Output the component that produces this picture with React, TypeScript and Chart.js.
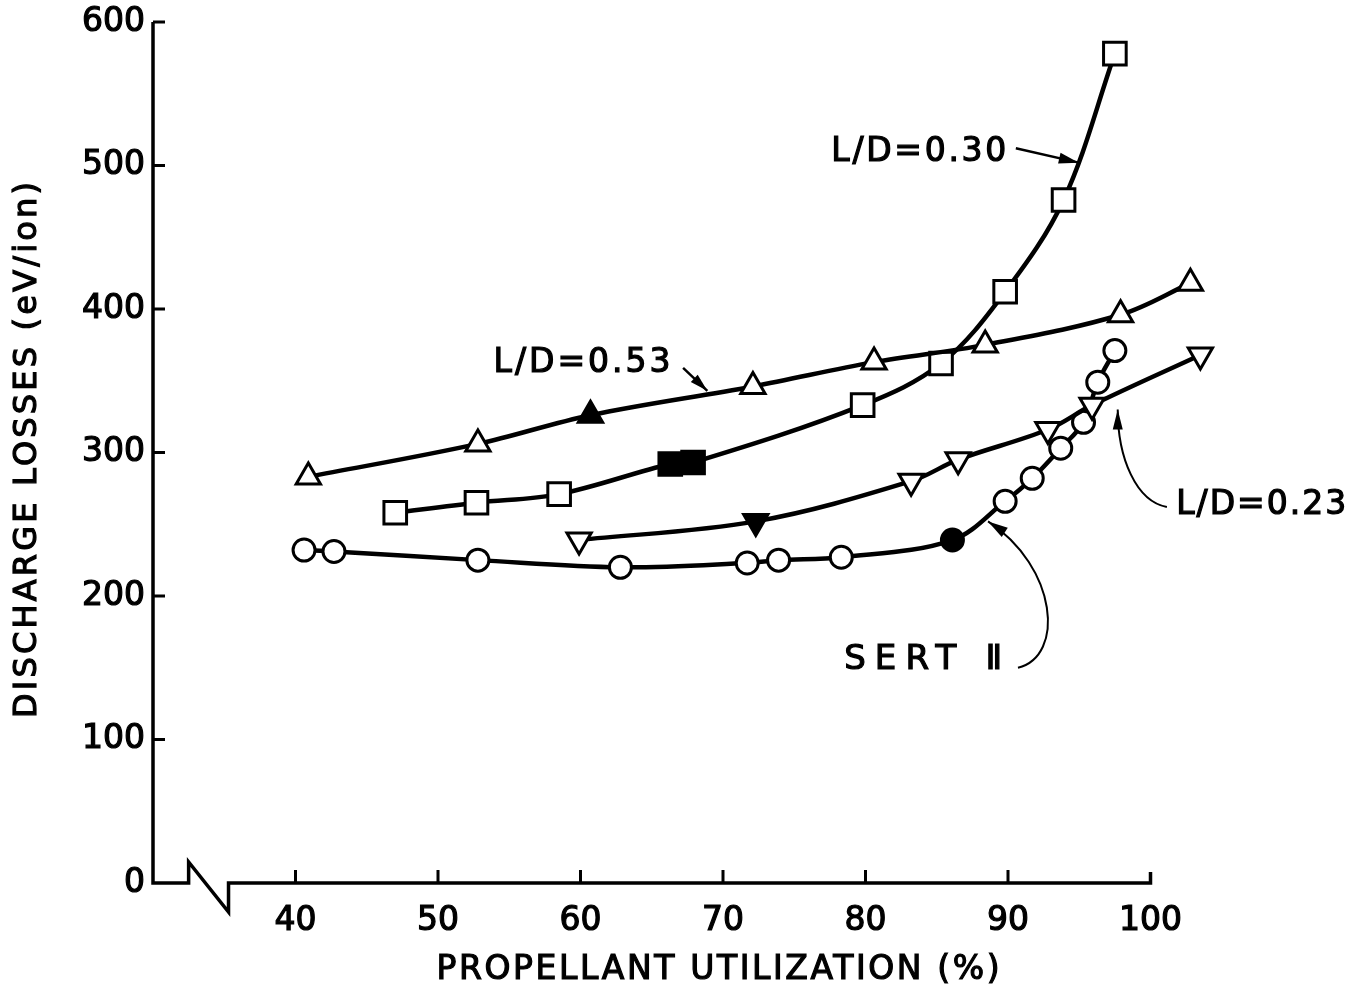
import React, { useEffect, useRef } from 'react';
import { Chart, registerables } from 'chart.js';

Chart.register(...registerables);

// ---- axis ticks ----
const X_TICKS = [40, 50, 60, 70, 80, 90, 100];
const Y_TICKS = [0, 100, 200, 300, 400, 500, 600];

// ---- L/D = 0.53 (triangles) ----
const LD053_X = [40.9, 52.8, 60.7, 72.1, 80.6, 88.4, 97.9, 102.8];
const LD053_Y = [283, 306, 326, 346, 363, 375, 396, 418];
const LD053_FILLED = [2];

// ---- L/D = 0.30 (squares) ----
const LD030_X = [47.0, 52.7, 58.5, 66.3, 67.9, 79.8, 85.3, 89.8, 93.9, 97.5];
const LD030_Y = [258, 265, 271, 292, 293, 333, 362, 412, 476, 578];
const LD030_FILLED = [3, 4];

// ---- L/D = 0.23 (inverted triangles) ----
const LD023_X = [59.9, 72.3, 83.2, 86.5, 92.8, 95.9, 103.5];
const LD023_Y = [239, 252, 280, 295, 316, 333, 368];
const LD023_FILLED = [1];

// ---- SERT II (circles) ----
const SERT_X = [40.6, 42.7, 52.8, 62.8, 71.7, 73.9, 78.3, 86.1, 89.8, 91.7, 93.7, 95.3, 96.3, 97.5];
const SERT_Y = [232, 231, 225, 220, 223, 225, 227, 239, 266, 282, 303, 321, 349, 371];
const SERT_FILLED = [7];

// ---- texts ----
const X_TITLE = 'PROPELLANT UTILIZATION (%)';
const Y_TITLE = 'DISCHARGE LOSSES (eV/ion)';
const LABEL_030 = 'L/D=0.30';
const LABEL_053 = 'L/D=0.53';
const LABEL_023 = 'L/D=0.23';
const LABEL_SERT = 'SERT \u2161';

const FONT = '"DejaVu Sans", "Liberation Sans", sans-serif';

const W = 1358;
const H = 995;

function pts(xs: number[], ys: number[]) {
  return xs.map((x, i) => ({ x, y: ys[i] }));
}

function spacedText(ctx: CanvasRenderingContext2D, text: string, x: number, y: number, width: number, size: number, rotate = false, align: 'center' | 'left' = 'center') {
  ctx.save();
  ctx.font = `${size}px ${FONT}`;
  (ctx as any).letterSpacing = '0px';
  const w0 = ctx.measureText(text).width;
  const n = Array.from(text).length;
  const ls = Math.max(0, (width - w0) / Math.max(1, n - 1));
  (ctx as any).letterSpacing = `${ls}px`;
  ctx.translate(x, y);
  if (rotate) ctx.rotate(-Math.PI / 2);
  ctx.textAlign = 'left';
  ctx.textBaseline = 'middle';
  ctx.fillStyle = '#000';
  ctx.strokeStyle = '#000';
  ctx.lineWidth = 1.2;
  const sx = align === 'center' ? -width / 2 : 0;
  ctx.fillText(text, sx, 0);
  ctx.strokeText(text, sx, 0);
  ctx.restore();
}

function arrowHead(ctx: CanvasRenderingContext2D, tx: number, ty: number, fx: number, fy: number, len = 20, half = 5.5) {
  const a = Math.atan2(ty - fy, tx - fx);
  ctx.beginPath();
  ctx.moveTo(tx, ty);
  ctx.lineTo(tx - len * Math.cos(a) + half * Math.sin(a), ty - len * Math.sin(a) - half * Math.cos(a));
  ctx.lineTo(tx - len * Math.cos(a) - half * Math.sin(a), ty - len * Math.sin(a) + half * Math.cos(a));
  ctx.closePath();
  ctx.fill();
}

const decor = {
  id: 'decor',
  afterDraw(chart: any) {
    const ctx: CanvasRenderingContext2D = chart.ctx;
    const xs = chart.scales.x;
    const ys = chart.scales.y;
    const px = (v: number) => xs.getPixelForValue(v);
    const py = (v: number) => ys.getPixelForValue(v);
    ctx.save();
    ctx.strokeStyle = '#000';
    ctx.fillStyle = '#000';
    ctx.lineJoin = 'miter';
    ctx.lineCap = 'butt';

    // axes with break
    const x0 = px(30);
    const y0 = py(0);
    ctx.lineWidth = 3.5;
    ctx.beginPath();
    ctx.moveTo(x0, py(600));
    ctx.lineTo(x0, y0);
    ctx.lineTo(px(32.5), y0);
    ctx.lineTo(px(32.5), y0 - 21);
    ctx.lineTo(px(35.3), y0 + 29);
    ctx.lineTo(px(35.3), y0);
    ctx.lineTo(px(100), y0);
    ctx.lineTo(px(100), y0 - 11);
    ctx.stroke();

    // tick marks (inside)
    ctx.lineWidth = 3;
    ctx.beginPath();
    for (const v of Y_TICKS) {
      if (v === 0) continue;
      ctx.moveTo(x0, py(v));
      ctx.lineTo(x0 + 12, py(v));
    }
    for (const v of X_TICKS) {
      if (v === 100) continue;
      ctx.moveTo(px(v), y0);
      ctx.lineTo(px(v), y0 - 13);
    }
    ctx.stroke();

    // axis titles
    spacedText(ctx, Y_TITLE, 28, 450, 536, 32, true);
    spacedText(ctx, X_TITLE, 718, 970, 563, 33);

    // annotations
    spacedText(ctx, LABEL_030, px(77.6), py(509), 175, 33, false, 'left');
    spacedText(ctx, LABEL_053, px(53.9), py(362), 177, 33, false, 'left');
    spacedText(ctx, LABEL_023, px(101.8), py(263), 170, 33, false, 'left');
    spacedText(ctx, LABEL_SERT, px(78.5), py(155), 158, 34, false, 'left');

    // arrow L/D=0.30
    ctx.lineWidth = 2.5;
    let sx = px(90.55), sy = py(512), tx = px(94.97), ty = py(502);
    ctx.beginPath(); ctx.moveTo(sx, sy); ctx.lineTo(tx, ty); ctx.stroke();
    arrowHead(ctx, tx, ty, sx, sy);

    // arrow L/D=0.53
    sx = px(67.2); sy = py(359); tx = px(68.9); ty = py(343);
    ctx.beginPath(); ctx.moveTo(sx, sy); ctx.lineTo(tx, ty); ctx.stroke();
    arrowHead(ctx, tx, ty, sx, sy, 18, 5);

    // arrow L/D=0.23 (curved)
    ctx.lineWidth = 2;
    sx = px(101.15); sy = py(262);
    let c1x = px(99.0), c1y = py(266), c2x = px(97.7), c2y = py(296);
    tx = px(97.7); ty = py(330);
    ctx.beginPath(); ctx.moveTo(sx, sy); ctx.bezierCurveTo(c1x, c1y, c2x, c2y, tx, ty); ctx.stroke();
    arrowHead(ctx, tx, ty, c2x, c2y, 20, 5);

    // arrow SERT II (curved)
    sx = px(90.7); sy = py(150);
    c1x = px(94.0); c1y = py(158); c2x = px(93.5); c2y = py(220);
    tx = px(88.6); ty = py(252);
    ctx.beginPath(); ctx.moveTo(sx, sy); ctx.bezierCurveTo(c1x, c1y, c2x, c2y, tx, ty); ctx.stroke();
    arrowHead(ctx, tx, ty, c2x, c2y, 20, 5.5);

    ctx.restore();
  },
};

function fillFn(filled: number[]) {
  return (c: any) => (filled.includes(c.dataIndex) ? '#000' : '#fff');
}

export default function App() {
  const ref = useRef<HTMLCanvasElement | null>(null);
  useEffect(() => {
    document.body.style.margin = '0';
    const canvas = ref.current;
    if (!canvas) return;
    const common = {
      showLine: true,
      borderColor: '#000',
      borderWidth: 4.5,
      pointBorderColor: '#000',
      pointBorderWidth: 3,
      tension: 0.35,
      clip: false as any,
      fill: false,
    };
    const tickFont = { family: FONT, size: 33 };
    const chart = new Chart(canvas, {
      type: 'scatter',
      data: {
        datasets: [
          {
            ...common,
            label: 'L/D=0.53',
            data: pts(LD053_X, LD053_Y),
            pointStyle: 'triangle',
            pointRadius: 14,
            pointBackgroundColor: fillFn(LD053_FILLED),
          },
          {
            ...common,
            label: 'L/D=0.30',
            data: pts(LD030_X, LD030_Y),
            pointStyle: 'rect',
            pointRadius: 16,
            pointBackgroundColor: fillFn(LD030_FILLED),
          },
          {
            ...common,
            label: 'L/D=0.23',
            data: pts(LD023_X, LD023_Y),
            pointStyle: 'triangle',
            pointRotation: 180,
            pointRadius: 14,
            pointBackgroundColor: fillFn(LD023_FILLED),
          },
          {
            ...common,
            label: 'SERT II',
            data: pts(SERT_X, SERT_Y),
            pointStyle: 'circle',
            pointRadius: 11,
            pointBackgroundColor: fillFn(SERT_FILLED),
          },
        ],
      },
      options: {
        responsive: false,
        animation: false,
        devicePixelRatio: 1,
        events: [],
        layout: { padding: { left: 0, top: 22, right: 122, bottom: 0 } },
        plugins: { legend: { display: false }, tooltip: { enabled: false } },
        scales: {
          x: {
            type: 'linear',
            min: 30,
            max: 106,
            afterBuildTicks: (s: any) => {
              s.ticks = X_TICKS.map((v) => ({ value: v }));
            },
            afterFit: (s: any) => {
              s.height = 112;
            },
            grid: { display: false },
            border: { display: false },
            ticks: {
              color: '#000',
              font: tickFont,
              textStrokeColor: '#000',
              textStrokeWidth: 1.2,
              padding: 11,
              maxRotation: 0,
              autoSkip: false,
            },
          },
          y: {
            type: 'linear',
            min: 0,
            max: 600,
            afterBuildTicks: (s: any) => {
              s.ticks = Y_TICKS.map((v) => ({ value: v }));
            },
            afterFit: (s: any) => {
              s.width = 153;
            },
            grid: { display: false },
            border: { display: false },
            ticks: {
              color: '#000',
              font: tickFont,
              textStrokeColor: '#000',
              textStrokeWidth: 1.2,
              padding: 0,
              autoSkip: false,
            },
          },
        },
      },
      plugins: [decor],
    });
    return () => chart.destroy();
  }, []);
  return (
    <div style={{ width: W, height: H, background: '#fff' }}>
      <canvas ref={ref} width={W} height={H} style={{ display: 'block' }} />
    </div>
  );
}
